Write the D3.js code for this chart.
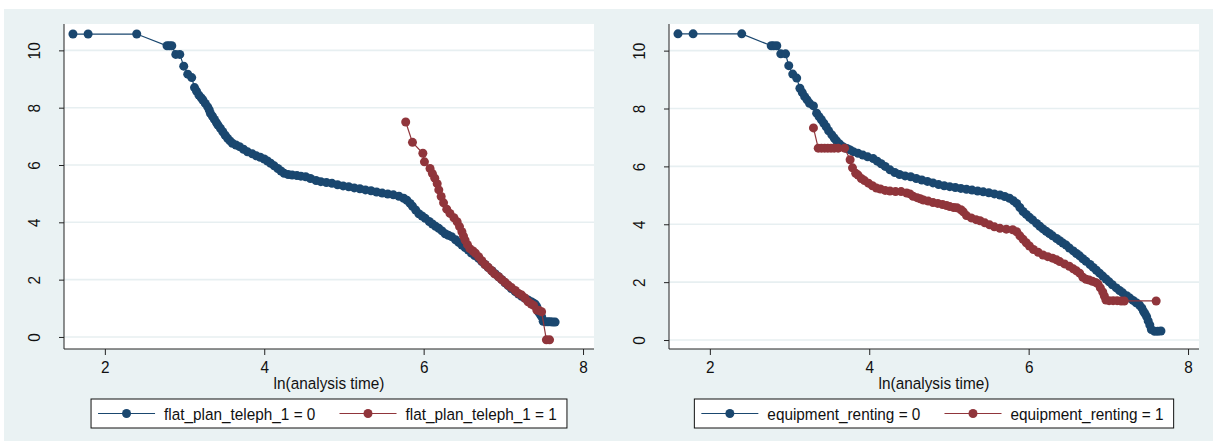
<!DOCTYPE html>
<html>
<head>
<meta charset="utf-8">
<script src="https://cdn.jsdelivr.net/npm/d3@7"></script>
<style>
  html, body { margin: 0; padding: 0; background: #ffffff; }
  svg { display: block; }
  text { font-family: "Liberation Sans", Arial, sans-serif; fill: #111; }
</style>
</head>
<body>
<svg id="chart" width="1213" height="441"></svg>
<script>
// -ln(-ln S(t)) against ln(analysis time), two groups per panel

const xTicks = [2, 4, 6, 8];
const yTicks = [0, 2, 4, 6, 8, 10];
const xTitle = "ln(analysis time)";

// Panel 1: flat_plan_teleph_1
const flatLabels = ["flat_plan_teleph_1 = 0", "flat_plan_teleph_1 = 1"];
const flat0X = [1.60,1.79,2.40,2.78,2.81,2.84,2.89,2.94,2.99,3.04,3.09,3.125,3.15,3.18,3.21,3.23,3.26,3.29,3.31,3.325,3.35,3.375,3.40,3.42,3.45,3.48,3.51,3.54,3.57,3.60,3.645,3.69,3.74,3.79,3.85,3.90,3.95,4.00,4.04,4.08,4.125,4.17,4.21,4.25,4.30,4.35,4.41,4.46,4.52,4.58,4.65,4.71,4.78,4.85,4.92,4.99,5.06,5.13,5.20,5.27,5.34,5.41,5.48,5.55,5.62,5.69,5.75,5.79,5.83,5.86,5.90,5.94,5.98,6.02,6.07,6.11,6.15,6.19,6.23,6.27,6.31,6.35,6.40,6.44,6.48,6.52,6.56,6.60,6.64,6.69,6.73,6.77,6.81,6.86,6.90,6.94,6.98,7.02,7.06,7.10,7.15,7.19,7.23,7.27,7.31,7.35,7.38,7.40,7.42,7.44,7.46,7.48,7.50,7.53,7.56,7.59,7.62,7.65];
const flat0Y = [10.57,10.57,10.57,10.16,10.16,10.16,9.86,9.86,9.45,9.17,9.05,8.70,8.58,8.44,8.34,8.27,8.15,8.03,7.92,7.80,7.70,7.59,7.48,7.39,7.28,7.16,7.04,6.93,6.84,6.76,6.70,6.64,6.55,6.46,6.39,6.32,6.27,6.21,6.14,6.06,5.97,5.88,5.79,5.71,5.67,5.65,5.63,5.61,5.59,5.53,5.46,5.42,5.39,5.36,5.31,5.27,5.24,5.20,5.17,5.13,5.10,5.06,5.02,4.99,4.96,4.91,4.84,4.77,4.66,4.56,4.43,4.30,4.22,4.14,4.03,3.94,3.86,3.79,3.70,3.60,3.55,3.50,3.39,3.30,3.21,3.12,3.03,2.93,2.84,2.74,2.63,2.53,2.42,2.30,2.20,2.10,2.00,1.89,1.79,1.69,1.58,1.50,1.42,1.35,1.29,1.23,1.18,1.14,1.06,0.88,0.80,0.71,0.55,0.53,0.53,0.53,0.52,0.52];
const flat1X = [5.775,5.86,5.99,6.01,6.08,6.11,6.14,6.17,6.19,6.22,6.25,6.29,6.33,6.38,6.42,6.45,6.48,6.50,6.52,6.55,6.58,6.62,6.65,6.69,6.73,6.77,6.81,6.85,6.89,6.94,6.98,7.02,7.06,7.10,7.15,7.19,7.23,7.27,7.31,7.35,7.38,7.42,7.45,7.48,7.54,7.58];
const flat1Y = [7.50,6.79,6.41,6.11,5.88,5.70,5.54,5.35,5.13,4.90,4.68,4.46,4.31,4.16,4.02,3.85,3.67,3.52,3.38,3.22,3.08,3.00,2.92,2.80,2.66,2.53,2.43,2.32,2.20,2.10,2.00,1.91,1.81,1.73,1.62,1.52,1.46,1.36,1.23,1.15,1.10,0.94,0.92,0.88,-0.10,-0.10];

// Panel 2: equipment_renting
const equipLabels = ["equipment_renting = 0", "equipment_renting = 1"];
const equip0X = [1.60,1.79,2.40,2.77,2.80,2.84,2.89,2.95,2.99,3.04,3.09,3.13,3.16,3.19,3.22,3.25,3.30,3.34,3.37,3.40,3.43,3.46,3.49,3.53,3.56,3.59,3.63,3.67,3.72,3.76,3.80,3.86,3.92,3.98,4.05,4.10,4.15,4.20,4.26,4.32,4.38,4.45,4.52,4.59,4.66,4.73,4.80,4.87,4.94,5.01,5.08,5.15,5.22,5.29,5.36,5.43,5.50,5.57,5.64,5.70,5.76,5.81,5.85,5.89,5.93,5.97,6.01,6.05,6.10,6.14,6.18,6.22,6.26,6.30,6.35,6.39,6.43,6.47,6.51,6.56,6.60,6.64,6.68,6.72,6.77,6.81,6.85,6.89,6.93,6.97,7.01,7.05,7.10,7.14,7.18,7.23,7.27,7.31,7.35,7.39,7.42,7.44,7.46,7.48,7.50,7.52,7.54,7.58,7.62,7.66];
const equip0Y = [10.58,10.58,10.58,10.17,10.17,10.17,9.89,9.89,9.48,9.19,9.05,8.70,8.55,8.41,8.30,8.18,8.09,7.84,7.72,7.61,7.49,7.37,7.23,7.09,6.98,6.88,6.77,6.68,6.62,6.57,6.51,6.45,6.39,6.33,6.27,6.18,6.09,6.00,5.88,5.79,5.72,5.67,5.64,5.58,5.53,5.48,5.43,5.37,5.33,5.30,5.27,5.24,5.21,5.18,5.15,5.12,5.09,5.05,5.01,4.96,4.90,4.81,4.72,4.58,4.44,4.34,4.24,4.15,4.03,3.93,3.84,3.76,3.68,3.60,3.51,3.43,3.35,3.28,3.18,3.08,2.99,2.91,2.81,2.72,2.61,2.51,2.41,2.31,2.21,2.11,2.01,1.91,1.80,1.71,1.63,1.53,1.45,1.37,1.29,1.21,1.11,1.00,0.91,0.81,0.66,0.52,0.36,0.30,0.30,0.31];
const equip1X = [3.30,3.36,3.40,3.44,3.48,3.52,3.56,3.61,3.69,3.76,3.79,3.83,3.86,3.90,3.94,3.99,4.04,4.09,4.14,4.20,4.26,4.33,4.40,4.47,4.51,4.55,4.60,4.64,4.68,4.74,4.80,4.86,4.92,4.97,5.01,5.06,5.10,5.15,5.18,5.22,5.28,5.34,5.39,5.45,5.51,5.57,5.64,5.72,5.80,5.85,5.89,5.93,5.97,6.01,6.06,6.12,6.18,6.24,6.30,6.35,6.39,6.45,6.51,6.56,6.60,6.64,6.68,6.72,6.76,6.80,6.84,6.87,6.90,6.93,6.95,6.97,7.01,7.06,7.11,7.16,7.20,7.60];
const equip1Y = [7.33,6.63,6.63,6.63,6.63,6.63,6.63,6.63,6.63,6.23,5.95,5.76,5.70,5.58,5.51,5.42,5.33,5.25,5.22,5.17,5.15,5.13,5.13,5.08,5.05,4.97,4.92,4.88,4.84,4.80,4.75,4.72,4.68,4.65,4.61,4.58,4.57,4.50,4.43,4.30,4.22,4.16,4.12,4.05,3.98,3.91,3.86,3.83,3.81,3.74,3.60,3.48,3.36,3.25,3.13,3.03,2.94,2.88,2.83,2.77,2.71,2.63,2.55,2.46,2.39,2.31,2.17,2.10,2.07,2.03,1.99,1.94,1.80,1.66,1.52,1.38,1.36,1.36,1.36,1.35,1.35,1.35];

const colors = ["#1a476f", "#90353b"];

const zip = (xs, ys) => xs.map((x, i) => ({ x, y: ys[i] }));

const panels = [
  { left: 64, right: 594, yDomain: [-0.42, 10.92], labels: flatLabels,
    series: [zip(flat0X, flat0Y), zip(flat1X, flat1Y)] },
  { left: 669, right: 1199, yDomain: [-0.31, 10.92], labels: equipLabels,
    series: [zip(equip0X, equip0Y), zip(equip1X, equip1Y)] }
];

const svg = d3.select("#chart");
const plotTop = 24, plotBottom = 349;
const fontSize = 16.5;
const squeeze = 0.93;   // slightly condensed glyphs
const markerR = 4.5;

// outer graph region background
svg.append("rect").attr("x", 4).attr("y", 9).attr("width", 1209).attr("height", 432)
  .attr("fill", "#eaf2f3");

panels.forEach(p => {
  const x = d3.scaleLinear().domain([1.4875, 8.1375]).range([p.left, p.right]);
  const y = d3.scaleLinear().domain(p.yDomain).range([plotBottom, plotTop]);
  const g = svg.append("g");

  // plot region
  g.append("rect").attr("x", p.left).attr("y", plotTop)
    .attr("width", p.right - p.left).attr("height", plotBottom - plotTop)
    .attr("fill", "#ffffff");

  // horizontal grid lines
  g.append("g").selectAll("line").data(yTicks).join("line")
    .attr("x1", p.left).attr("x2", p.right)
    .attr("y1", d => y(d)).attr("y2", d => y(d))
    .attr("stroke", "#e7eff1").attr("stroke-width", 1.6);

  // y axis
  const yAxis = g.append("g").attr("transform", `translate(${p.left},0)`)
    .call(d3.axisLeft(y).tickValues(yTicks).tickSize(5).tickPadding(4).tickFormat(d3.format("d")));
  yAxis.select(".domain").attr("stroke", "#222").attr("d", `M0,${plotTop}V${plotBottom}`);
  yAxis.selectAll(".tick line").attr("stroke", "#222");
  yAxis.selectAll(".tick text")
    .attr("font-size", fontSize).attr("font-family", "Liberation Sans, Arial, sans-serif")
    .attr("fill", "#111")
    .attr("text-anchor", "middle").attr("x", null).attr("dy", null)
    .attr("transform", `translate(-24.5,0) rotate(-90) scale(${squeeze},1)`)
    .attr("y", 0);

  // x axis
  const xAxis = g.append("g").attr("transform", `translate(0,${plotBottom})`)
    .call(d3.axisBottom(x).tickValues(xTicks).tickSize(6).tickPadding(5).tickFormat(d3.format("d")));
  xAxis.select(".domain").attr("stroke", "#222").attr("d", `M${p.left},0H${p.right}`);
  xAxis.selectAll(".tick line").attr("stroke", "#222");
  xAxis.selectAll(".tick text")
    .attr("font-size", fontSize).attr("font-family", "Liberation Sans, Arial, sans-serif")
    .attr("fill", "#111").attr("dy", null).attr("y", 0)
    .attr("transform", `translate(0,24) scale(${squeeze},1)`);

  g.append("text")
    .attr("transform", `translate(${(p.left + p.right) / 2},388.5) scale(${squeeze},1)`)
    .attr("text-anchor", "middle").attr("font-size", fontSize).text(xTitle);

  // series: connecting line plus circle markers
  const line = d3.line().x(d => x(d.x)).y(d => y(d.y));
  p.series.forEach((pts, i) => {
    const sg = g.append("g");
    sg.append("path").datum(pts).attr("d", line)
      .attr("fill", "none").attr("stroke", colors[i]).attr("stroke-width", 1.2);
    sg.selectAll("circle").data(pts).join("circle")
      .attr("cx", d => x(d.x)).attr("cy", d => y(d.y)).attr("r", markerR)
      .attr("fill", colors[i]);
  });

  // legend
  const lg = g.append("g");
  const box = lg.append("rect").attr("y", 399).attr("height", 29)
    .attr("fill", "#ffffff").attr("stroke", "#111").attr("stroke-width", 1);
  const padL = 7, sample = 57, gapT = 9, gapS = 24, padR = 10;
  const items = [];
  p.labels.forEach((lab, i) => {
    const it = lg.append("g");
    it.append("line");
    const t = it.append("text").attr("font-size", fontSize).text(lab);
    items.push({ it, t, w: t.node().getComputedTextLength() * squeeze });
  });
  const total = padL + items.reduce((s, d) => s + sample + gapT + d.w, 0) + gapS * (items.length - 1) + padR;
  const bx = (p.left + p.right) / 2 - total / 2;
  box.attr("x", bx).attr("width", total);
  let pos = bx + padL;
  const ly = 413.5;
  items.forEach((d, i) => {
    d.it.select("line").attr("x1", pos).attr("x2", pos + sample).attr("y1", ly).attr("y2", ly)
      .attr("stroke", colors[i]).attr("stroke-width", 1.2);
    d.it.append("circle").attr("cx", pos + sample / 2).attr("cy", ly).attr("r", markerR).attr("fill", colors[i]);
    d.t.attr("transform", `translate(${pos + sample + gapT},${ly + 6}) scale(${squeeze},1)`);
    pos += sample + gapT + d.w + gapS;
  });
});
</script>
</body>
</html>
